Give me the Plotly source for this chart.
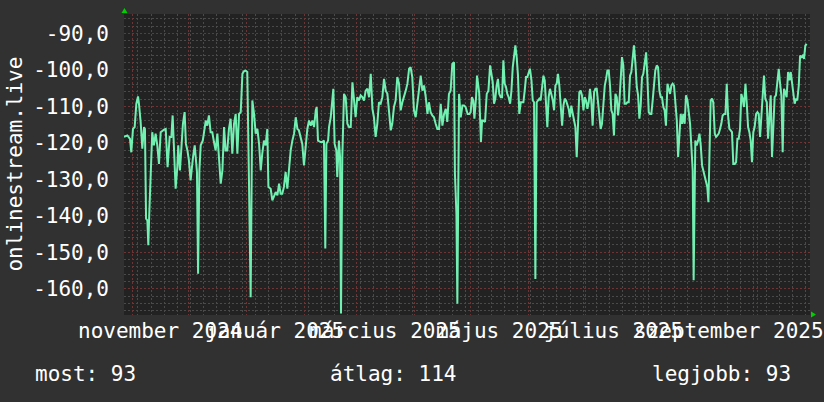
import pandas as pd
import plotly.graph_objects as go

# ---- data ----
start_time = "2024-10-27 13:30"
end_time = "2025-10-29 06:20"

day_offset = [
    0.0, 1.8, 3.2, 3.9, 4.8, 5.7, 6.6, 7.5, 8.0, 8.9, 9.8, 10.7, 11.2, 11.8, 12.5, 13.0, 13.5, 14.3, 15.1, 16.0,
    16.9, 17.8, 18.7, 19.6, 20.5, 21.4, 22.3, 23.3, 24.4, 25.3, 26.0, 26.7, 27.6, 28.5, 29.0, 29.9, 30.6, 31.5,
    32.4, 33.1, 33.9, 34.7, 35.6, 36.2, 36.9, 37.8, 38.3, 39.0, 39.6, 40.3, 41.0, 42.1, 42.8, 43.7, 44.5, 45.4,
    46.3, 47.2, 48.1, 49.0, 49.9, 50.8, 51.7, 52.6, 53.5, 54.3, 55.2, 56.1, 57.0, 57.9, 58.8, 59.7, 60.6, 61.5,
    62.4, 63.3, 64.1, 65.0, 65.9, 66.8, 67.7, 68.6, 69.5, 70.4, 71.3, 72.2, 73.1, 73.9, 74.8, 75.7, 76.6, 77.2,
    78.4, 79.3, 80.2, 81.1, 82.0, 82.9, 83.7, 84.6, 85.5, 86.4, 87.3, 88.2, 89.1, 90.0, 90.9, 91.8, 92.7, 93.5,
    94.4, 95.3, 96.2, 97.1, 98.0, 98.9, 99.8, 100.7, 101.6, 102.5, 103.0, 103.7, 105.1, 106.0, 106.9, 107.6,
    108.2, 109.1, 109.6, 110.5, 111.4, 111.9, 112.6, 113.5, 114.0, 114.9, 115.5, 116.0, 116.7, 117.6, 118.5,
    119.4, 120.3, 121.2, 122.1, 123.0, 123.8, 124.7, 125.6, 126.5, 127.4, 128.3, 129.2, 130.1, 131.0, 131.9,
    132.8, 133.6, 134.5, 135.4, 136.3, 137.2, 138.1, 139.0, 139.9, 140.8, 141.7, 142.6, 143.4, 144.3, 145.2,
    146.1, 147.0, 147.9, 148.8, 149.7, 150.6, 151.5, 152.4, 153.2, 154.1, 155.0, 155.9, 156.8, 157.7, 158.6,
    159.5, 160.4, 161.3, 162.2, 163.0, 163.9, 164.8, 165.7, 166.6, 167.5, 168.4, 169.3, 170.2, 171.1, 172.0,
    172.8, 173.7, 174.6, 175.5, 176.4, 176.9, 177.7, 178.2, 179.1, 180.0, 180.9, 181.8, 182.6,
    183.7, 184.6, 185.3, 186.0, 186.7, 187.3, 188.2, 188.7, 189.4, 189.9, 190.8, 191.4, 192.1, 193.0, 193.9,
    194.8, 195.7, 196.4, 197.1, 197.8, 198.5, 199.2, 199.9, 200.6, 201.4, 202.1, 202.8, 203.5, 204.2, 204.9,
    205.6, 206.4, 207.1, 207.8, 208.5, 209.2, 209.9, 210.6, 211.3, 212.1, 212.8, 213.5, 214.2, 214.9, 215.6,
    216.3, 217.0, 217.8, 218.5, 219.2, 219.9, 220.6, 221.3, 222.0, 222.7, 223.5, 224.2, 224.9, 225.6, 226.3,
    227.0, 227.7, 228.4, 229.2, 229.9, 230.6, 231.3, 232.0, 232.7, 233.4, 234.2, 234.9, 235.6, 236.3, 237.0,
    237.7, 238.4, 239.1, 239.9, 240.6, 241.3, 242.0, 242.7, 243.4, 244.1, 244.8, 245.6, 246.3, 247.0, 247.7,
    248.4, 249.1, 249.8, 250.5, 251.3, 252.0, 252.7, 253.4, 254.1, 254.8, 255.5, 256.2, 257.0, 257.7, 258.4,
    259.1, 259.8, 260.5, 261.2, 261.9, 262.7, 263.4, 264.1, 264.8, 265.5, 266.2, 266.9, 267.6, 268.4, 269.1,
    269.8, 270.5, 271.2, 271.9, 272.6, 273.4, 274.1, 274.8, 275.5, 276.2, 276.9, 277.6, 278.3, 279.1, 279.8,
    280.5, 281.2, 281.9, 282.6, 283.3, 284.0, 284.8, 285.5, 286.2, 286.9, 287.6, 288.3, 289.0, 289.7, 290.5,
    291.2, 291.9, 292.6, 293.3, 294.0, 294.7, 295.5, 296.2, 296.9, 297.6, 298.3, 299.0, 299.7, 300.4, 301.2,
    301.9, 302.6, 303.3, 304.0, 304.5, 305.4, 306.1, 306.9, 307.6, 308.3, 309.0, 309.7, 310.4, 311.1, 311.8,
    312.4, 312.9, 313.6, 314.3, 315.0, 315.8, 316.5, 317.2, 317.9, 318.6, 319.3, 320.0, 320.8, 321.5, 322.2,
    322.9, 323.6, 324.3, 325.0, 325.7, 326.5, 327.2, 327.9, 328.6, 329.3, 330.0, 330.7, 331.4, 332.2, 332.9,
    333.6, 334.3, 335.0, 335.7, 336.4, 337.1, 337.9, 338.6, 339.3, 340.0, 340.7, 341.4, 342.1, 342.8, 343.6,
    344.3, 345.0, 345.7, 346.4, 347.1, 347.8, 348.5, 349.3, 350.0, 350.7, 351.4, 352.1, 352.8, 353.5, 354.2,
    355.0, 355.7, 356.4, 357.1, 357.8, 358.5, 359.2, 359.9, 360.7, 361.4, 362.1, 362.8, 363.5, 364.2, 364.9,
]

signal = [
    -118.4, -118.0, -118.9, -122.6, -116.2, -115.7, -109.3, -107.3, -109.3, -114.3, -121.6, -115.7, -116.2,
    -140.8, -141.3, -148.1, -139.5, -125.8, -117.1, -120.7, -117.5, -120.7, -125.8, -117.1, -116.6, -116.4,
    -116.2, -126.7, -118.4, -118.4, -112.5, -123.9, -132.6, -126.7, -120.7, -127.6, -120.7, -114.8, -111.6,
    -120.3, -122.1, -124.8, -130.3, -126.7, -123.9, -120.7, -124.8, -128.0, -155.9, -127.6, -120.7, -119.4,
    -117.1, -113.9, -115.3, -112.5, -117.1, -117.1, -119.8, -122.1, -117.5, -124.8, -131.2, -127.6, -115.7,
    -122.1, -122.1, -116.2, -113.4, -123.0, -114.8, -112.1, -123.0, -112.1, -111.6, -101.1, -100.4, -100.2,
    -100.6, -130.3, -162.3, -108.4, -112.1, -117.5, -116.2, -120.3, -127.6, -123.0, -119.4, -120.7, -116.2,
    -132.1, -132.6, -135.8, -134.4, -133.5, -134.4, -131.2, -134.0, -134.0, -132.1, -128.0, -132.6, -127.6,
    -122.1, -119.4, -117.5, -113.0, -116.2, -116.6, -118.9, -120.3, -126.2, -121.2, -116.2, -113.9, -115.3,
    -113.9, -115.7, -111.1, -110.2, -119.4, -119.8, -119.8, -119.4, -149.0, -120.3, -119.4, -115.7, -113.0,
    -107.5, -105.2, -120.3, -122.1, -129.4, -119.4, -123.9, -166.8, -123.9, -106.6, -107.5, -114.8, -115.7,
    -115.7, -103.4, -109.3, -113.0, -107.5, -108.4, -107.0, -107.5, -108.4, -105.7, -105.2, -107.5, -101.1,
    -110.7, -113.0, -118.4, -114.8, -108.9, -109.3, -107.5, -102.5, -105.7, -106.6, -112.1, -116.6, -114.8,
    -110.2, -108.4, -102.0, -103.8, -111.1, -108.9, -107.5, -105.7, -103.8, -99.7, -99.3, -102.0, -111.1,
    -113.0, -109.3, -104.7, -101.6, -105.7, -104.3, -107.5, -112.1, -108.9, -111.6, -112.5, -113.0, -114.8,
    -116.2, -116.2, -109.3, -115.3, -112.1, -110.7, -114.3, -106.6, -105.7, -98.4, -97.9, -128.5, -139.5,
    -164.1, -106.6, -113.0, -109.8, -109.8, -110.2,
    -112.1, -112.1, -111.6, -107.5, -108.4, -113.4, -107.5, -101.6, -104.3, -106.6, -119.8, -113.9, -113.9,
    -114.3, -106.6, -105.7, -98.8, -102.0, -103.4, -109.3, -107.9, -104.3, -102.5, -106.6, -107.5, -107.5,
    -97.4, -103.8, -104.7, -106.6, -107.5, -109.3, -105.7, -99.3, -96.5, -93.3, -96.5, -101.6, -112.1, -108.9,
    -108.9, -108.9, -105.7, -102.0, -102.0, -101.1, -99.7, -102.9, -108.4, -108.9, -157.3, -108.9, -108.4,
    -107.9, -108.4, -104.3, -101.6, -102.9, -107.9, -115.7, -107.5, -105.2, -106.6, -108.4, -111.1, -104.3,
    -103.8, -101.1, -104.3, -110.7, -115.3, -109.8, -107.9, -108.4, -109.8, -110.7, -113.0, -109.8, -112.1,
    -113.9, -115.7, -123.9, -113.0, -106.1, -105.7, -107.0, -111.1, -107.5, -108.4, -110.7, -108.9, -105.2,
    -108.4, -115.3, -106.1, -105.2, -105.2, -108.4, -112.1, -116.2, -114.8, -108.9, -104.3, -102.5, -100.2,
    -100.2, -104.3, -111.1, -112.1, -118.0, -106.6, -107.5, -112.5, -108.9, -102.0, -96.5, -98.8, -109.3,
    -109.3, -108.9, -108.9, -101.6, -100.6, -97.4, -93.3, -98.4, -104.7, -107.0, -113.4, -109.8, -102.0,
    -101.1, -98.4, -95.2, -102.5, -111.6, -112.1, -112.1, -108.4, -104.7, -100.2, -98.8, -99.3, -105.7,
    -107.5, -107.5, -110.2, -111.1, -115.3, -103.8, -105.2, -106.6, -104.3, -103.8, -104.3, -108.9, -113.9,
    -123.9, -115.7, -112.1, -114.8, -112.1, -114.8, -107.0, -108.4, -111.1, -114.8, -121.2, -127.6, -157.7,
    -119.4, -120.7, -119.4, -117.5, -120.7, -126.2, -127.6, -129.4, -131.2, -132.1, -136.3, -121.2, -108.4,
    -107.9, -108.9, -117.5, -118.4, -118.0, -117.5, -116.2, -114.8, -112.5, -112.1, -112.1, -103.8, -112.5,
    -116.2, -116.6, -117.1, -125.8, -125.8, -125.3, -118.9, -118.9, -116.2, -106.6, -107.9, -110.2, -103.8,
    -109.3, -115.7, -117.1, -119.4, -125.3, -117.1, -115.7, -112.1, -111.6, -112.1, -118.4, -112.1, -106.6,
    -101.6, -107.9, -108.9, -118.9, -113.0, -107.0, -123.9, -115.7, -107.5, -107.0, -102.9, -99.7, -103.8,
    -107.0, -122.6, -105.2, -106.1, -107.5, -100.6, -102.9, -100.6, -103.8, -107.0, -109.3, -107.9, -108.4,
    -104.3, -96.1, -96.5, -96.1, -97.0, -93.4, -92.9,
]

y_tick_values = [-160, -150, -140, -130, -120, -110, -100, -90]
y_tick_labels = ["-160,0", "-150,0", "-140,0", "-130,0", "-120,0", "-110,0", "-100,0", "-90,0"]

month_label_dates = ["2024-11-16", "2025-01-16", "2025-03-16", "2025-05-16", "2025-07-16", "2025-09-16"]
month_labels = ["november 2024", "január 2025", "március 2025", "május 2025", "július 2025", "szeptember 2025"]

summary_labels = ["most: 93", "átlag: 114", "legjobb: 93"]
axis_title = "onlinestream.live"

# ---- styling ----
FONT = "DejaVu Sans Mono"
FS = 21
BG = "#313131"
PLOT_BG = "#222222"
LINE = "#72F0B2"
MINOR = "#4a4a4a"
MAJOR = "#6e3434"
ARROW = "#00d000"

times = pd.Timestamp(start_time) + pd.to_timedelta(day_offset, unit="D")

fig = go.Figure()
fig.add_trace(go.Scatter(
    x=times, y=signal, mode="lines",
    line=dict(color=LINE, width=2),
    hoverinfo="skip", showlegend=False,
))

fig.update_layout(
    width=824, height=402,
    margin=dict(l=124, r=14, t=14, b=87),
    paper_bgcolor=BG, plot_bgcolor=PLOT_BG,
    font=dict(family=FONT, size=FS, color="#ffffff"),
    showlegend=False,
)

fig.update_xaxes(
    type="date",
    range=[start_time, end_time],
    showticklabels=False,
    ticks="",
    dtick="M1", tick0="2024-11-01",
    showgrid=True, gridcolor=MAJOR, griddash="2px,2px", gridwidth=1,
    minor=dict(dtick=7 * 86400000, tick0="2024-11-04", showgrid=True,
               gridcolor=MINOR, griddash="2px,2px", gridwidth=1),
    zeroline=False, showline=False, fixedrange=True,
)

fig.update_yaxes(
    range=[-167.2, -84.7],
    tickmode="array", tickvals=y_tick_values, ticktext=y_tick_labels,
    tickfont=dict(family=FONT, size=FS, color="#ffffff"),
    ticks="", ticklabelstandoff=14,
    showgrid=True, gridcolor=MAJOR, griddash="2px,2px", gridwidth=1,
    minor=dict(dtick=2, showgrid=True, gridcolor=MINOR, griddash="2px,2px", gridwidth=1),
    zeroline=False, showline=False, fixedrange=True,
)

# month labels (rrdtool-style, centred in the month)
for d, txt in zip(month_label_dates, month_labels):
    fig.add_annotation(
        x=d, xref="x", y=-0.053, yref="paper",
        text=txt, showarrow=False, xanchor="center", yanchor="middle",
        font=dict(family=FONT, size=FS, color="#ffffff"),
    )

# vertical axis title
fig.add_annotation(
    x=-0.1603, xref="paper", y=0.5, yref="paper",
    text=axis_title, textangle=-90, showarrow=False,
    xanchor="center", yanchor="middle",
    font=dict(family=FONT, size=FS, color="#ffffff"),
)

# summary line
for xp, txt in zip([-0.1327, 0.2974, 0.7668], summary_labels):
    fig.add_annotation(
        x=xp, xref="paper", y=-0.196, yref="paper",
        text=txt, showarrow=False, xanchor="left", yanchor="middle",
        font=dict(family=FONT, size=FS, color="#ffffff"),
    )

# axis arrows
fig.add_shape(type="path", xref="paper", yref="paper",
              path="M 0.0007 1.0199 L -0.0036 1.0033 L 0.0051 1.0033 Z",
              fillcolor=ARROW, line=dict(width=0))
fig.add_shape(type="path", xref="paper", yref="paper",
              path="M 1.0087 0.0017 L 1.0015 0.0116 L 1.0015 -0.0083 Z",
              fillcolor=ARROW, line=dict(width=0))

fig.write_html(
    "out.html",
    config={"displayModeBar": False, "staticPlot": True},
    post_script="document.body.style.margin='0';document.body.style.background='#313131';",
)
